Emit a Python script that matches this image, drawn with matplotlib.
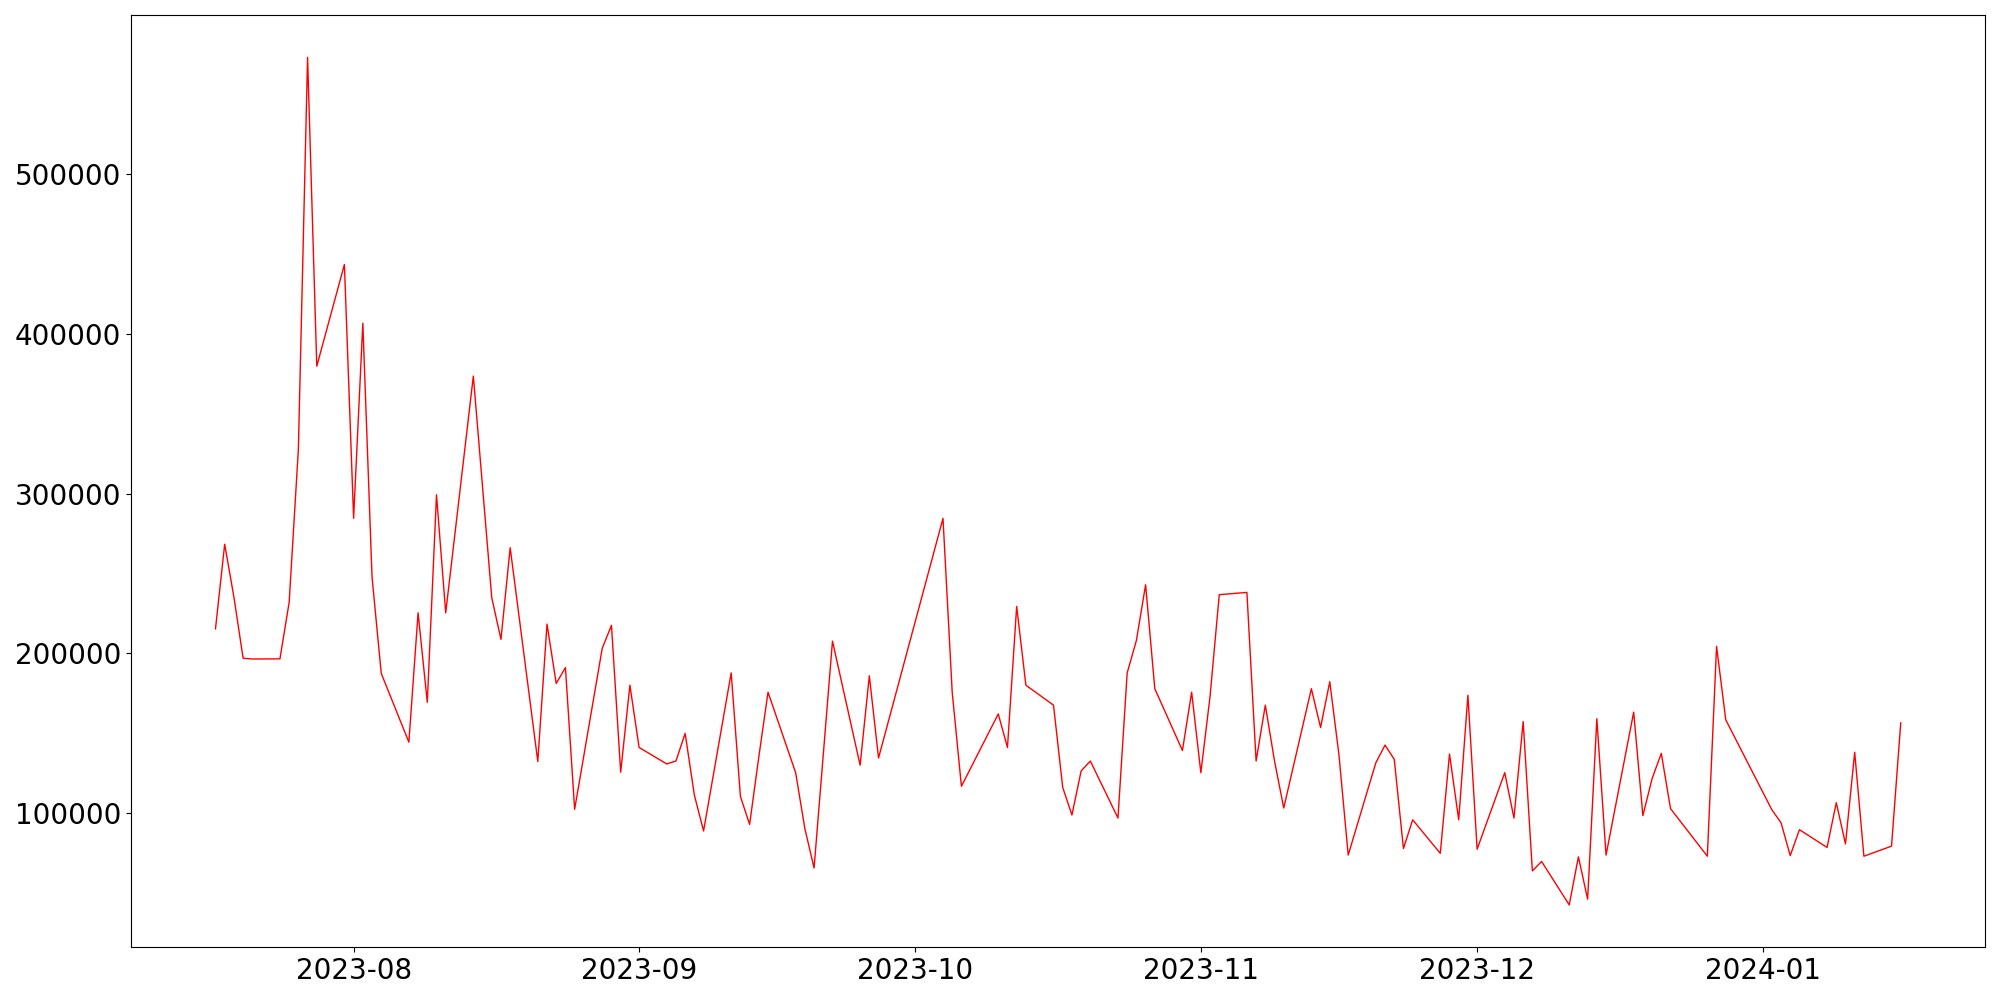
import matplotlib
matplotlib.use("Agg")
import matplotlib.pyplot as plt
import pandas as pd

dates = [
    "2023-07-17", "2023-07-18", "2023-07-19", "2023-07-20", "2023-07-21", "2023-07-24",
    "2023-07-25", "2023-07-26", "2023-07-27", "2023-07-28", "2023-07-31",
    "2023-08-01", "2023-08-02", "2023-08-03", "2023-08-04", "2023-08-07",
    "2023-08-08", "2023-08-09", "2023-08-10", "2023-08-11", "2023-08-14",
    "2023-08-16", "2023-08-17", "2023-08-18", "2023-08-21", "2023-08-22",
    "2023-08-23", "2023-08-24", "2023-08-25", "2023-08-28", "2023-08-29",
    "2023-08-30", "2023-08-31", "2023-09-01", "2023-09-04", "2023-09-05",
    "2023-09-06", "2023-09-07", "2023-09-08", "2023-09-11", "2023-09-12",
    "2023-09-13", "2023-09-14", "2023-09-15", "2023-09-18", "2023-09-19",
    "2023-09-20", "2023-09-22", "2023-09-25", "2023-09-26", "2023-09-27",
    "2023-10-04", "2023-10-05", "2023-10-06", "2023-10-10", "2023-10-11",
    "2023-10-12", "2023-10-13", "2023-10-16", "2023-10-17", "2023-10-18",
    "2023-10-19", "2023-10-20", "2023-10-23", "2023-10-24", "2023-10-25",
    "2023-10-26", "2023-10-27", "2023-10-30", "2023-10-31", "2023-11-01",
    "2023-11-02", "2023-11-03", "2023-11-06", "2023-11-07", "2023-11-08",
    "2023-11-09", "2023-11-10", "2023-11-13", "2023-11-14", "2023-11-15",
    "2023-11-16", "2023-11-17", "2023-11-20", "2023-11-21", "2023-11-22",
    "2023-11-23", "2023-11-24", "2023-11-27", "2023-11-28", "2023-11-29",
    "2023-11-30", "2023-12-01", "2023-12-04", "2023-12-05", "2023-12-06",
    "2023-12-07", "2023-12-08", "2023-12-11", "2023-12-12", "2023-12-13",
    "2023-12-14", "2023-12-15", "2023-12-18", "2023-12-19", "2023-12-20",
    "2023-12-21", "2023-12-22", "2023-12-26", "2023-12-27", "2023-12-28",
    "2024-01-02", "2024-01-03", "2024-01-04", "2024-01-05", "2024-01-08",
    "2024-01-09", "2024-01-10", "2024-01-11", "2024-01-12", "2024-01-15",
    "2024-01-16",
]

values = [
    215400, 268400, 235300, 197000, 196500, 196600,
    232000, 327700, 573300, 379900, 443600,
    284600, 406800, 247800, 187500, 144400,
    225400, 169400, 299300, 225400, 373700,
    234900, 208800, 266200, 132300, 218400,
    181200, 191100, 102400, 203300, 217600,
    125600, 180100, 141100, 130800, 132600,
    149900, 111300, 88800, 187800, 110500,
    92900, 135200, 175700, 125300, 90300,
    65600, 207700, 130000, 186000, 134500,
    284600, 175700, 116800, 162100, 141100,
    229400, 180100, 167600, 116100, 98800,
    126400, 132600, 96900, 187800, 208100,
    243000, 177900, 139200, 175700, 125300,
    173100, 236800, 238200, 132600, 167600,
    132600, 103200, 177900, 153600, 182300,
    136300, 73700, 131500, 142600, 133700,
    77800, 95800, 74800, 137000, 95800,
    173800, 77400, 125300, 96900, 157300,
    63800, 69700, 42500, 72600, 46100,
    159100, 73700, 163200, 98400, 121600,
    137400, 102800, 73000, 204400, 158400,
    102100, 94000, 73400, 89600, 78500,
    106500, 80700, 138100, 73000, 79300,
    156500,
]

x = pd.to_datetime(dates)

fig, ax = plt.subplots(figsize=(20, 10), dpi=100)
ax.plot(x, values, color="red", linewidth=1.0)
ax.tick_params(axis="both", labelsize=20)
fig.tight_layout()
fig.savefig("out.png", dpi=100)
